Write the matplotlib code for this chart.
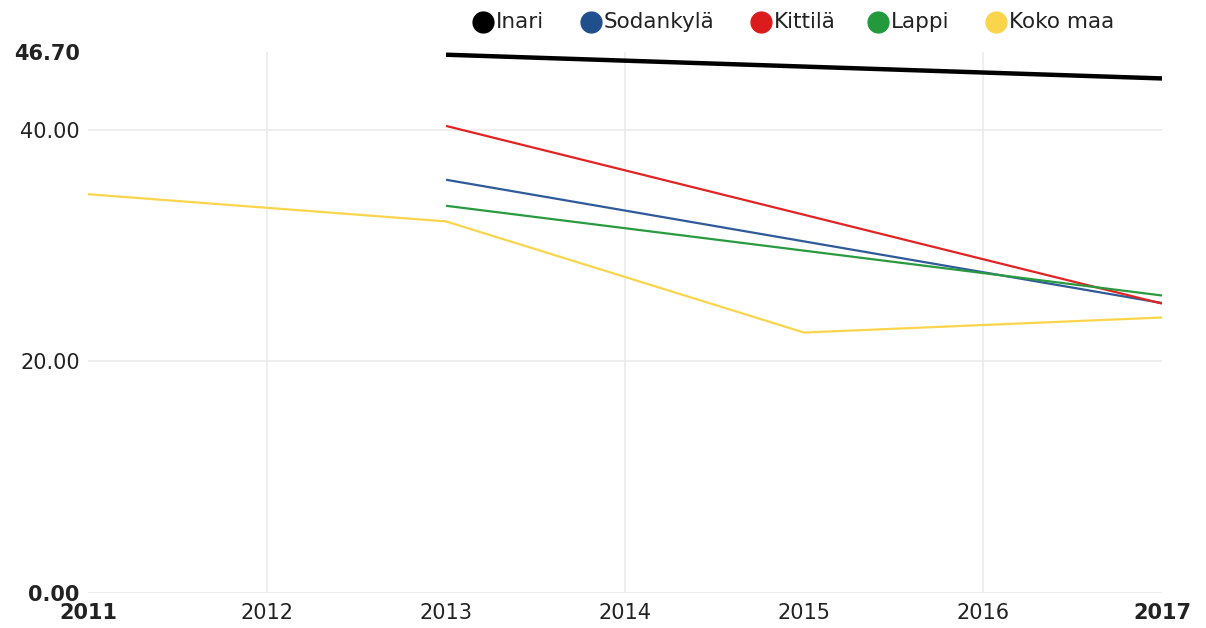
import matplotlib
matplotlib.use("Agg")
import matplotlib.pyplot as plt
from matplotlib.lines import Line2D

plt.rcParams["font.family"] = ["DejaVu Sans"]

years = [2011, 2012, 2013, 2014, 2015, 2016, 2017]
series_names = ["Inari", "Sodankylä", "Kittilä", "Lappi", "Koko maa"]
inari = [None, None, 46.5, None, None, None, 44.45]
sodankyla = [None, None, 35.7, None, None, None, 25.05]
kittila = [None, None, 40.35, None, None, None, 25.0]
lappi = [None, None, 33.45, None, None, None, 25.7]
koko_maa = [34.45, None, 32.1, None, 22.5, None, 23.8]
y_ticks = [0.0, 20.0, 40.0, 46.7]
y_tick_labels = ["0.00", "20.00", "40.00", "46.70"]
x_tick_labels = ["2011", "2012", "2013", "2014", "2015", "2016", "2017"]

colors = ["#000000", "#2f5a9a", "#e02424", "#2a9a3e", "#fad54c"]
legend_colors = ["#000000", "#1f4f8c", "#dc1c1c", "#229a3c", "#fad54c"]
widths = [3.2, 1.6, 1.6, 1.6, 1.6]

W, H = 1206, 628
fig = plt.figure(figsize=(W/100, H/100), dpi=100)
ax = fig.add_axes([88/W, 35/H, (1162-88)/W, (593-52.4)/H])

data = [inari, sodankyla, kittila, lappi, koko_maa]
for name, vals, c, lw in zip(series_names, data, colors, widths):
    xs = [x for x, v in zip(years, vals) if v is not None]
    ys = [v for v in vals if v is not None]
    ax.plot(xs, ys, color=c, lw=lw, solid_capstyle="butt", zorder=3)

ax.set_xlim(2011, 2017)
ax.set_ylim(0, 46.7)

for y in [0, 20, 40]:
    ax.axhline(y, color="#ebebeb", lw=1.2, zorder=1)
for x in [2012, 2014, 2016]:
    ax.axvline(x, color="#ebebeb", lw=1.2, zorder=1)

for s in ax.spines.values():
    s.set_visible(False)

ax.set_yticks(y_ticks)
ax.set_yticklabels(y_tick_labels)
ax.set_xticks(years)
ax.set_xticklabels(x_tick_labels)
ax.tick_params(axis="both", length=0, labelsize=15, colors="#222222")
ax.tick_params(axis="y", pad=6)
ax.tick_params(axis="x", pad=7)
for lab in ax.get_yticklabels():
    if lab.get_text() in ("0.00", "46.70"):
        lab.set_fontweight("bold")
for lab in ax.get_xticklabels():
    if lab.get_text() in ("2011", "2017"):
        lab.set_fontweight("bold")

# legend, placed item by item along the top
legend_x = [483, 591, 761, 878, 996]
legend_y = 22
for name, c, xc in zip(series_names, legend_colors, legend_x):
    fig.add_artist(Line2D([xc/W], [1 - legend_y/H], marker="o", markersize=15,
                          markerfacecolor=c, markeredgecolor=c,
                          linestyle="none", transform=fig.transFigure))
    fig.text((xc + 13)/W, 1 - legend_y/H, name, fontsize=15.5,
             ha="left", va="center", color="#222222")

fig.savefig("out.png", dpi=100)
